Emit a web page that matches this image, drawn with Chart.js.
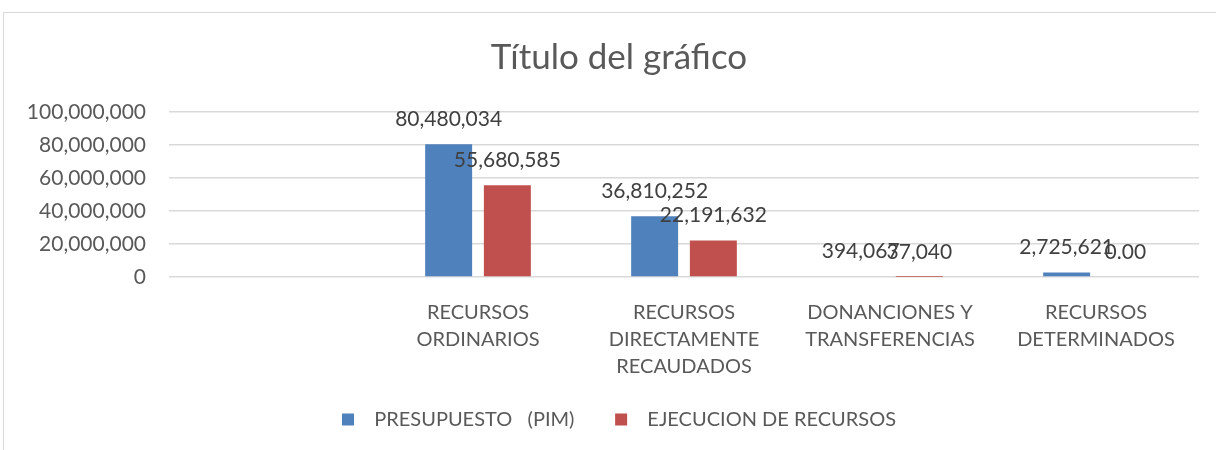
<!DOCTYPE html>
<html>
<head>
<meta charset="utf-8">
<script src="https://cdn.jsdelivr.net/npm/chart.js@4.4.1/dist/chart.umd.min.js"></script>
<style>
  html, body { margin: 0; padding: 0; background: #fff; overflow: hidden; }
  #frame {
    position: absolute; left: 3px; top: 12px;
    width: 1230px; height: 450px;
    border: 1px solid #d9d9d9;
  }
  #myChart { display: block; }
</style>
</head>
<body>
<div id="frame"><canvas id="myChart" width="1230" height="437"></canvas></div>
<script>
const categories = [
    '',
    ['RECURSOS', 'ORDINARIOS'],
    ['RECURSOS', 'DIRECTAMENTE', 'RECAUDADOS'],
    ['DONANCIONES Y', 'TRANSFERENCIAS'],
    ['RECURSOS', 'DETERMINADOS']
];
const presupuesto = [null, 80480034, 36810252, 394067, 2725621];
const ejecucion = [null, 55680585, 22191632, 37040, 0];
const seriesNames = ['PRESUPUESTO   (PIM)', 'EJECUCION DE RECURSOS'];
const yMax = 100000000;
const yStep = 20000000;

const FONT = 'Lato, "Open Sans", sans-serif';
const AXIS_COLOR = '#595959';

// value labels above each bar (Excel "outside end")
const valueLabels = {
    id: 'valueLabels',
    afterDatasetsDraw(chart) {
        const c = chart.ctx;
        c.save();
        c.font = '21px ' + FONT;
        c.fillStyle = '#404040';
        c.textAlign = 'center';
        c.textBaseline = 'middle';
        chart.data.datasets.forEach((ds, i) => {
            const meta = chart.getDatasetMeta(i);
            meta.data.forEach((bar, j) => {
                const v = ds.data[j];
                if (v === null || v === undefined) return;
                const txt = v === 0 ? '0.00' : v.toLocaleString('en-US');
                c.fillText(txt, bar.x, bar.y - 25);
            });
        });
        c.restore();
    }
};

const ctx = document.getElementById('myChart');

new Chart(ctx, {
    type: 'bar',
    data: {
        labels: categories,
        datasets: [{
            label: seriesNames[0],
            data: presupuesto,
            backgroundColor: '#4F81BD',
            borderWidth: 0,
            inflateAmount: 0,
            yAxisID: 'y'
        }, {
            label: seriesNames[1],
            data: ejecucion,
            backgroundColor: '#C0504D',
            borderWidth: 0,
            inflateAmount: 0,
            yAxisID: 'y'
        }]
    },
    options: {
        responsive: false,
        animation: false,
        devicePixelRatio: 1,
        categoryPercentage: 0.57,
        barPercentage: 0.8,
        layout: {
            padding: { left: 0, right: 0, top: 0, bottom: 10.5 }
        },
        scales: {
            x: {
                grid: { display: false },
                border: { display: false },
                ticks: {
                    color: AXIS_COLOR,
                    padding: 14,
                    maxRotation: 0,
                    autoSkip: false,
                    font: { family: FONT, size: 20, lineHeight: 1.35 }
                },
                afterFit: function(scale) { scale.height = 122.5; }
            },
            y: {
                min: 0,
                max: yMax,
                border: { display: false },
                grid: { color: '#d9d9d9', lineWidth: 1.5, drawTicks: false },
                ticks: {
                    stepSize: yStep,
                    color: AXIS_COLOR,
                    padding: 23,
                    font: { family: FONT, size: 21 },
                    callback: function(value) {
                        return value.toLocaleString('en-US');
                    }
                },
                afterFit: function(scale) { scale.width = 165; }
            },
            // empty right-hand spacer so the plot ends where Excel's does
            spacer: {
                type: 'linear',
                position: 'right',
                grid: { display: false },
                border: { display: false },
                ticks: { display: false },
                afterFit: function(scale) { scale.width = 35; }
            }
        },
        plugins: {
            title: {
                display: true,
                text: 'Título del gráfico',
                color: AXIS_COLOR,
                font: { family: FONT, size: 35, weight: 'normal', lineHeight: 1.2 },
                padding: { top: 24, bottom: 33 }
            },
            legend: {
                position: 'bottom',
                labels: {
                    color: AXIS_COLOR,
                    boxWidth: 12,
                    boxHeight: 12,
                    padding: 10,
                    font: { family: FONT, size: 20 },
                    generateLabels: function(chart) {
                        const items = Chart.defaults.plugins.legend.labels.generateLabels(chart);
                        items.forEach(function(item, i) {
                            item.text = '  ' + item.text + (i < items.length - 1 ? '      ' : '');
                            item.lineWidth = 0;
                        });
                        return items;
                    }
                }
            },
            tooltip: { enabled: false }
        }
    },
    plugins: [valueLabels]
});
</script>
</body>
</html>
